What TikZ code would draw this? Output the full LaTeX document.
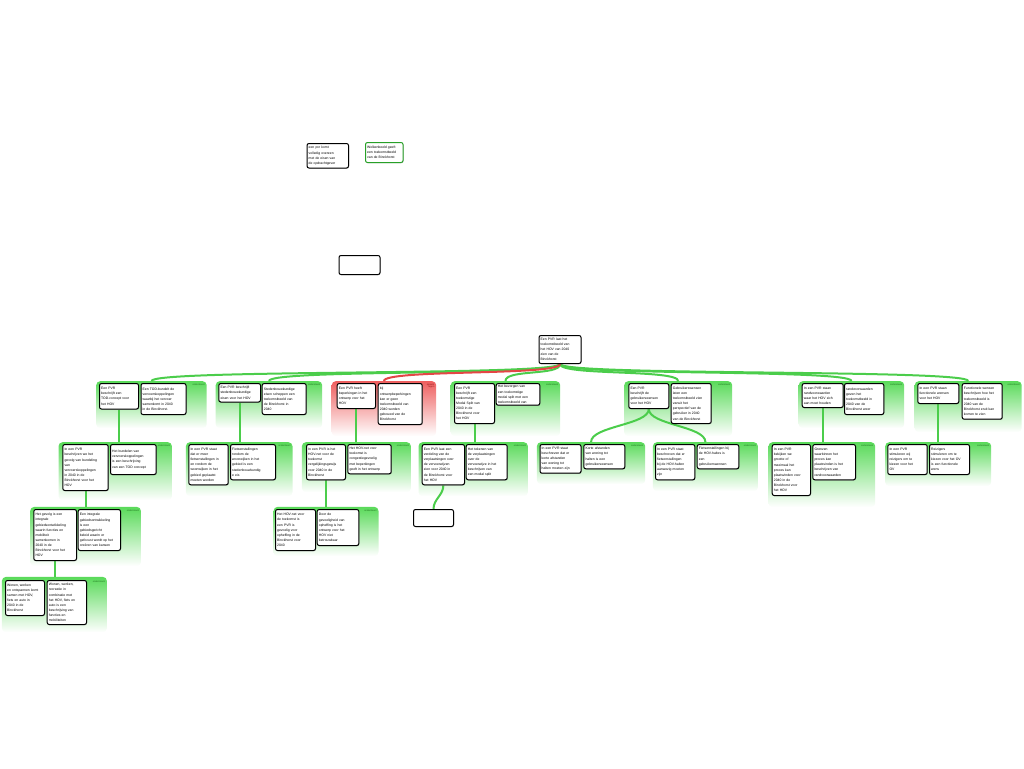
\documentclass[tikz,border=0pt]{standalone}
\usepackage{fontspec}
\setmainfont{Liberation Sans}
\usetikzlibrary{shadows,calc}
\definecolor{gfill}{RGB}{90,218,90}
\definecolor{rfill}{RGB}{238,95,95}
\definecolor{glink}{RGB}{75,205,75}
\definecolor{rlink}{RGB}{228,70,70}
\definecolor{gtext}{RGB}{30,110,30}
\definecolor{rtext}{RGB}{140,20,20}
\definecolor{gborder}{RGB}{40,160,40}
\pgfdeclarelayer{bg}\pgfdeclarelayer{mid}
\pgfsetlayers{bg,mid,main}
\tikzset{
  box/.style={draw=black, line width=1pt, rounded corners=2pt, fill=white,
    anchor=north west, inner sep=1.7pt, align=left,
    font=\fontsize{3.4}{5.1}\selectfont,
    drop shadow={shadow xshift=0.5pt,shadow yshift=-0.7pt,fill=black!45,opacity=0.6}},
  gbox/.style={box, draw=gborder},
  grpg/.style={anchor=north west, inner sep=0pt, rounded corners=4pt,
    top color=gfill, middle color=gfill!75, bottom color=white},
  grpr/.style={anchor=north west, inner sep=0pt, rounded corners=4pt,
    top color=rfill, middle color=rfill!75, bottom color=white},
  lab/.style={anchor=north east, inner sep=0.5pt, text=gtext, align=right,
    font=\fontsize{2.3}{2.6}\selectfont},
  rlab/.style={lab, text=rtext},
  gln/.style={draw=glink, line width=2pt},
  rln/.style={draw=rlink, line width=2pt},
}
% box: [style] name x y w h text
\newcommand\bx[7][box]{%
  \pgfmathsetmacro\mytw{#5-3.4}%
  \node[#1, minimum height=#6pt, text width=\mytw pt] (#2) at (#3,#4) {#7};}
% group: style name x1 y1 x2 y2
\newcommand\grp[6]{%
  \pgfmathsetmacro\mygw{#5-#3}\pgfmathsetmacro\mygh{#6-#4}%
  \begin{pgfonlayer}{bg}
  \node[#1, minimum width=\mygw pt, minimum height=\mygh pt] (#2) at (#3,#4) {};
  \end{pgfonlayer}}
\begin{document}
\begin{tikzpicture}[x=1pt,y=-1pt]
\useasboundingbox (0,0) rectangle (1024,768);

% isolated boxes
\bx{top1}{306.5}{143}{41.5}{24.5}{een pvr komt\\volledig overeen\\met de eisen van\\de opdrachtgever}
\bx[gbox]{top2}{365}{142}{37.5}{20}{Wolkenbeeld geeft\\een toekomstbeeld\\van de Binckhorst}
\bx{empty1}{338.5}{255}{41}{19}{}

% root
\bx{root}{538.5}{335}{42}{28}{Een PVR laat het\\toekomstbeeld van\\het HOV van 2040\\zien van de\\Binckhorst}

% ---------- row 1 ----------
\grp{grpg}{G1}{96}{381}{206.5}{428}
\bx{c1}{99}{383}{39}{25.5}{Een PVR\\beschrijft een\\TOD-concept voor\\het HOV}
\bx{r1}{140.5}{383}{45}{31}{Een TOD-bundelt de\\vervoerskoppelingen\\waarbij het vervoer\\samenkomt in 2040\\in de Binckhorst.}
\node[lab] (l1) at (205.5,383) {ondersteunt};

\grp{grpg}{G2}{215.5}{381}{322}{428}
\bx{c2}{218.3}{383}{41.7}{18.5}{Een PVR beschrijft\\stedenbouwkundige\\eisen voor het HOV}
\bx{r2}{261.7}{383}{44}{31}{Stedenbouwkundige\\eisen scheppen een\\toekomstbeeld van\\de Binckhorst in\\2040}
\node[lab] (l2) at (321,383) {ondersteunt};

\grp{grpr}{G3}{331.5}{381}{436}{436}
\bx{c3}{336.7}{383}{38.3}{25}{Een PVR heeft\\beperkingen in het\\ontwerp voor het\\HOV}
\bx{r3}{377.7}{383}{44}{41}{bij\\ontwerpbeperkingen\\kan er geen\\toekomstbeeld van\\2040 worden\\gebouwd van de\\Binckhorst}
\node[rlab] (l3) at (435,383) {spreekt\\tegen};

\grp{grpg}{G4}{450.5}{381}{560}{436}
\bx{c4}{454}{383}{40}{40}{Een PVR\\beschrijft een\\toekomstige\\Modal Split van\\2040 in de\\Binckhorst voor\\het HOV}
\bx{r4}{495.7}{383}{43.6}{21.7}{Het bezorgen van\\een toekomstige\\modal split met een\\toekomstbeeld van}
\node[lab] (l4) at (559,383) {ondersteunt};

\grp{grpg}{G5}{624}{381}{732}{436}
\bx{c5}{628.3}{383}{40}{25}{Een PVR\\beschrijft de\\gebruikerswensen\\voor het HOV}
\bx{r5}{670.7}{383}{40}{40}{Gebruikerswensen\\laten een\\toekomstbeeld zien\\vanuit het\\perspectief van de\\gebruiker in 2040\\van de Binckhorst}
\node[lab] (l5) at (731,383) {ondersteunt};

\grp{grpg}{G6}{798.5}{381}{904}{428}
\bx{c6}{801.7}{383}{41}{24}{In een PVR staan\\randvoorwaarden\\waar het HOV zich\\aan moet houden}
\bx{r6}{844}{383}{39.3}{31}{randvoorwaarden\\geven het\\toekomstbeeld in\\2040 van de\\Binckhorst weer}
\node[lab] (l6) at (903,383) {ondersteunt};

\grp{grpg}{G7}{914.5}{381}{1021.5}{432}
\bx{c7}{917.3}{383}{41}{20}{In een PVR staan\\functionele wensen\\voor het HOV}
\bx{r7}{961.7}{383}{40}{35.7}{Functionele wensen\\beschrijven hoe het\\toekomstbeeld is\\2040 van de\\Binckhorst eruit kan\\komen te zien}
\node[lab] (l7) at (1020.5,383) {ondersteunt};

% ---------- row 2 ----------
\grp{grpg}{H1}{58.3}{442}{171.7}{500}
\bx{d1}{62.3}{444}{45.4}{46}{In een PVR\\beschrijven we het\\gevolg van bundeling\\van\\vervoerskoppelingen\\in 2040 in de\\Binckhorst voor het\\HOV}
\bx{s1}{110}{444}{45.7}{30}{Het bundelen van\\vervoerskoppelingen\\is een beschrijving\\van een TOD concept}
\node[lab] (m1) at (170.7,444) {ondersteunt};

\grp{grpg}{H2}{185.7}{442}{292.3}{496}
\bx{d2}{188.3}{444}{39.4}{40.3}{In een PVR staat\\dat er meer\\fietsenstallingen in\\en rondom de\\woonwijken in het\\gebied geplaatst\\moeten worden}
\bx{s2}{230}{444}{45}{35.3}{Fietsenstallingen\\rondom de\\woonwijken in het\\gebied is een\\stedenbouwkundig\\e eis}
\node[lab] (m2) at (291.3,444) {ondersteunt};

\grp{grpg}{H3}{301.7}{442}{410.7}{492}
\bx{d3}{306}{444}{39}{35.3}{In een PVR is het\\HOV-net voor de\\toekomst\\vergelijkingsgewijs\\voor 2040 in de\\Binckhorst}
\bx{s3}{347.3}{444}{43.4}{29.3}{Het HOV-net voor\\toekomst is\\congestiegevoelig\\met beperkingen\\geeft in het ontwerp}
\node[lab] (m3) at (409.7,444) {ondersteunt};

\grp{grpg}{H4}{418.3}{442}{527.7}{496}
\bx{d4}{421.7}{444}{42.3}{40.3}{Een PVR laat een\\verdeling van de\\verplaatsingen over\\de vervoerwijzen\\zien voor 2040 in\\de Binckhorst voor\\het HOV}
\bx{s4}{465.7}{444}{41}{35.3}{Het tekenen van\\de verplaatsingen\\over de\\vervoerwijze in het\\beschrijven van\\een modal split}
\node[lab] (m4) at (526.7,444) {ondersteunt};

\grp{grpg}{H5a}{536.7}{442}{645}{484}
\bx{d5a}{539.5}{444}{41}{28.7}{In een PVR staat\\beschreven dat er\\korte afstanden\\van woning tot\\halten moeten zijn}
\bx{s5a}{583.3}{444}{41}{24.3}{Korte afstanden\\van woning tot\\halten is een\\gebruikerswensen}
\node[lab] (m5a) at (644,444) {ondersteunt};

\grp{grpg}{H5b}{652.7}{442}{757.7}{491}
\bx{d5b}{655}{444}{39.3}{35.3}{In een PVR staat\\beschreven dat er\\fietsenstallingen\\bij de HOV-halten\\aanwezig moeten\\zijn}
\bx{s5b}{696.7}{444}{41.6}{24.3}{Fietsenstallingen bij\\de HOV-haltes is\\een\\gebruikerswensen}
\node[lab] (m5b) at (756.7,444) {ondersteunt};

\grp{grpg}{H6}{768.3}{442}{875}{507}
\bx{d6}{771.7}{444}{38.3}{51}{In een PVR\\bekijken we\\grootte of\\maximaal het\\proces kan\\plaatsvinden voor\\2040 in de\\Binckhorst voor\\het HOV}
\bx{s6}{812.3}{444}{42.7}{35.3}{Grenzen\\waarbinnen het\\proces kan\\plaatsvinden is het\\beschrijven van\\randvoorwaarden}
\node[lab] (m6) at (874,444) {ondersteunt};

\grp{grpg}{H7}{885}{442}{991}{486}
\bx{d7}{887.3}{444}{39.4}{30}{In een PVR\\stimuleren wij\\reizigers om te\\kiezen voor het\\OV}
\bx{s7}{929}{444}{40}{30}{Reizigers\\stimuleren om te\\kiezen voor het OV\\is een functionele\\wens}
\node[lab] (m7) at (990,444) {ondersteunt};

% ---------- row 3 ----------
\grp{grpg}{K1}{30}{506.7}{140.7}{566}
\bx{e1}{33.3}{509}{42.7}{51}{Het gevolg is een\\integrale\\gebiedsontwikkeling\\waarin functies en\\mobiliteit\\samenkomen in\\2040 in de\\Binckhorst voor het\\HOV}
\bx{t1}{77.7}{509}{42.3}{41}{Een integrale\\gebiedsontwikkeling\\is een\\gebiedsgericht\\beleid waarin er\\gefocust wordt op het\\cre\"eren van kansen}
\node[lab] (n1) at (139.7,509) {ondersteunt};

\grp{grpg}{K3}{273.3}{506.7}{378.3}{556}
\bx{e3}{275}{509}{40}{41}{Het HOV-net voor\\de toekomst is\\een PVR is\\gevoelig voor\\opheffing in de\\Binckhorst voor\\2040}
\bx{t3}{316.7}{509}{41.6}{36}{Door de\\gevoeligheid van\\opheffing is het\\ontwerp voor het\\HOV niet\\betrouwbaar}
\node[lab] (n3) at (377.3,509) {ondersteunt};

\bx{empty2}{413}{509}{40}{17}{}

% ---------- row 4 ----------
\grp{grpg}{F1}{1.7}{576.7}{106.7}{632}
\bx{f1}{5}{580}{39}{35}{Wonen, werken\\en ontspannen komt\\samen met HOV,\\fiets en auto in\\2040 in de\\Binckhorst}
\bx{u1}{46.7}{580}{39.3}{44}{Wonen, werken,\\recreatie in\\combinatie met\\het HOV, fiets en\\auto is een\\beschrijving van\\functies en\\mobiliteiten}
\node[lab] (o1) at (105.7,580) {ondersteunt};

% ---------- connectors ----------
\begin{pgfonlayer}{mid}
\foreach \g in {G1,G2,G4,G5,G6,G7}
  \draw[gln] (root.south) .. controls +(0,12) and +(0,-12) .. (\g.north);
\draw[rln] (root.south) .. controls +(0,12) and +(0,-12) .. (G3.north);
\draw[gln] (c1.south) -- (c1.south |- H1.north);
\draw[gln] (c2.south) -- (c2.south |- H2.north);
\draw[gln] (c3.south) -- (c3.south |- H3.north);
\draw[gln] (c4.south) -- (c4.south |- H4.north);
\draw[gln] (c5.south) .. controls +(0,16) and +(0,-16) .. (H5a.north);
\draw[gln] (c5.south) .. controls +(0,16) and +(0,-16) .. (H5b.north);
\draw[gln] (c6.south) -- (c6.south |- H6.north);
\draw[gln] (c7.south) -- (c7.south |- H7.north);
\draw[gln] (d1.south) -- (d1.south |- K1.north);
\draw[gln] (d3.south) -- (d3.south |- K3.north);
\draw[gln] (d4.south) .. controls +(0,10) and +(0,-10) .. (empty2.north);
\draw[gln] (e1.south) -- (e1.south |- F1.north);
\end{pgfonlayer}
\end{tikzpicture}
\end{document}
